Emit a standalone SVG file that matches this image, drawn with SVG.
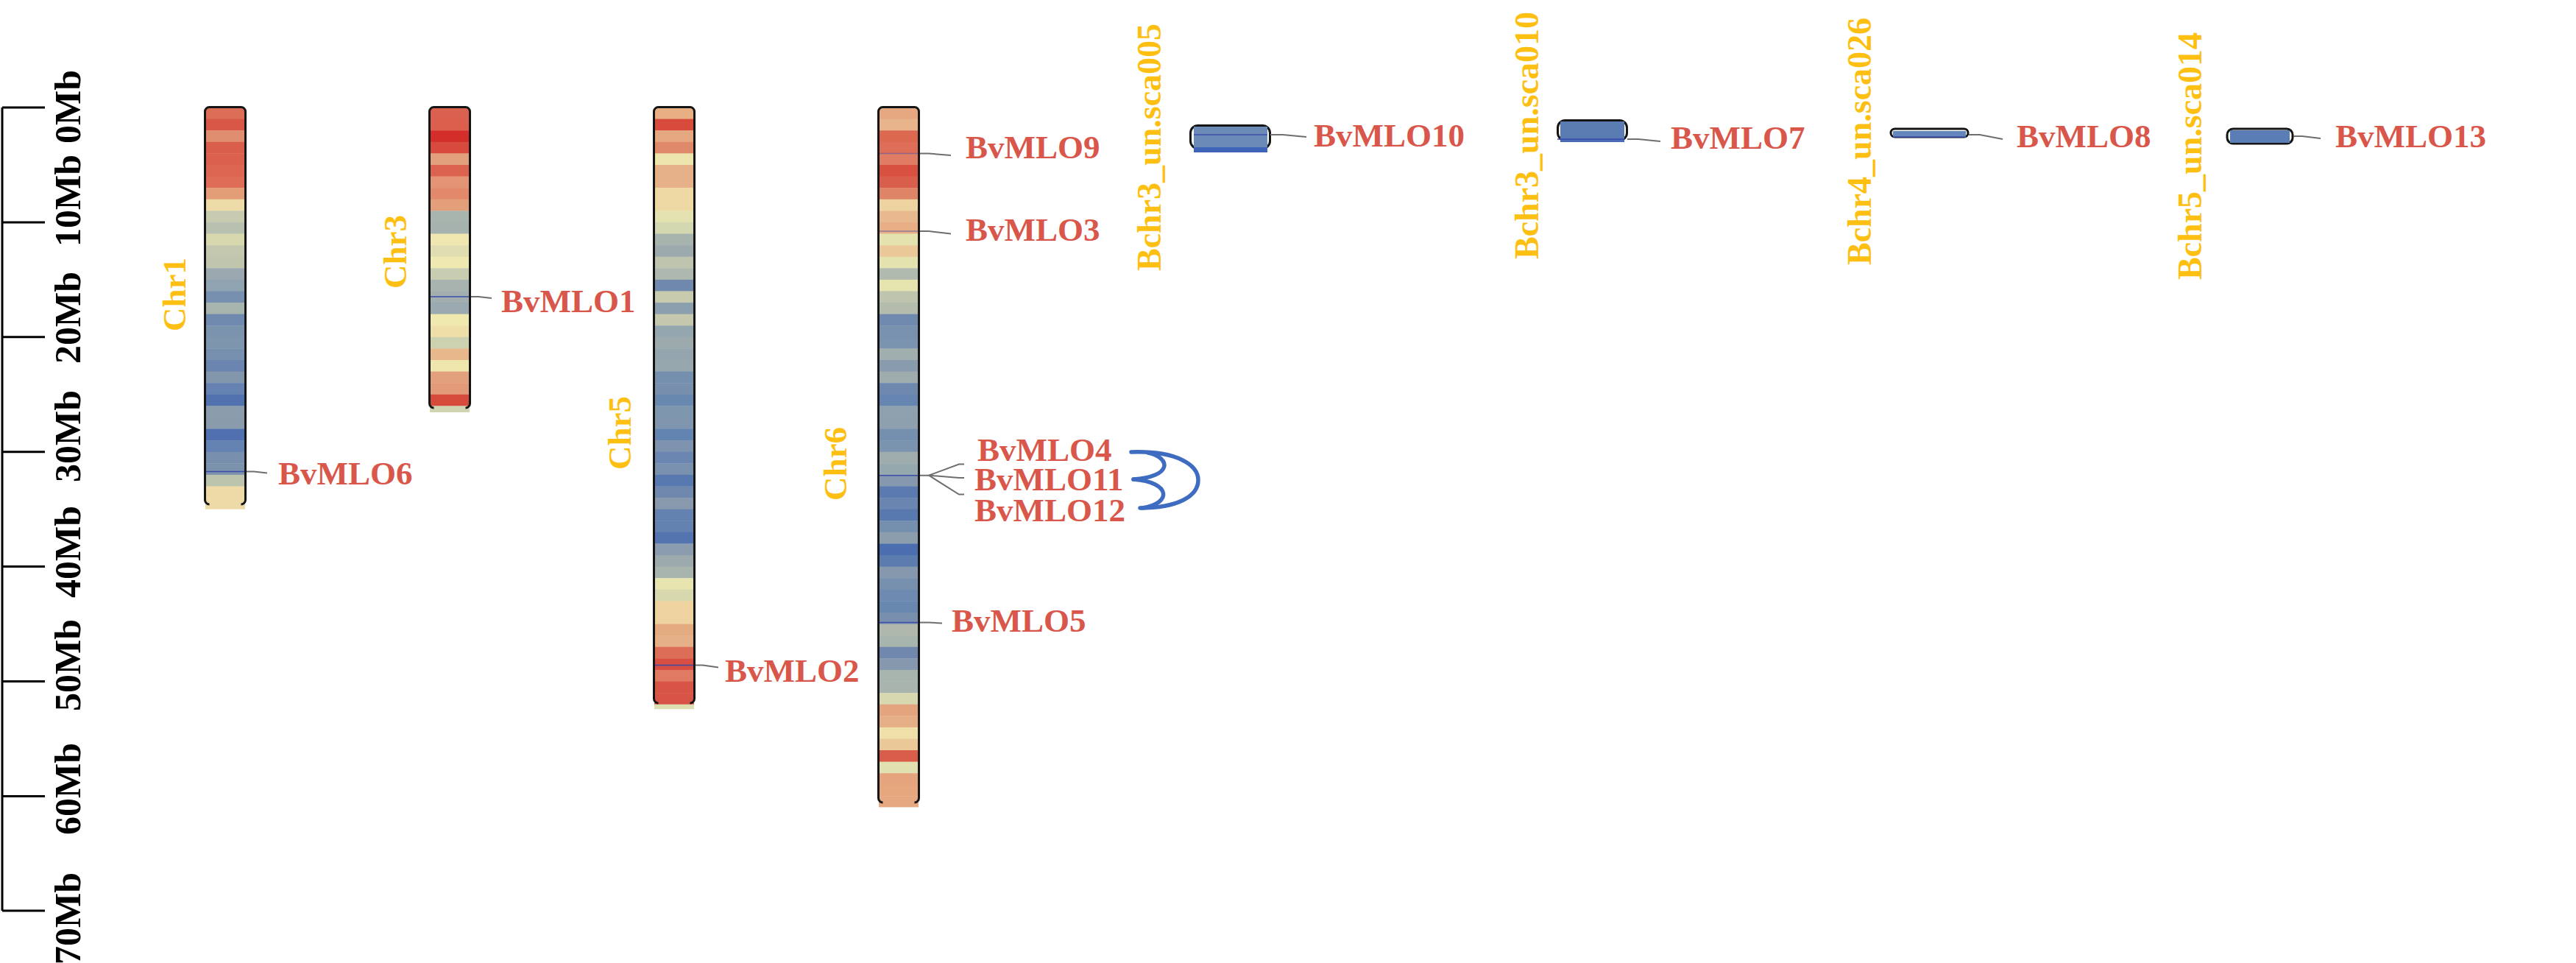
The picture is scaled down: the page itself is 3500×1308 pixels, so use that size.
<svg xmlns="http://www.w3.org/2000/svg" width="3500" height="1308" viewBox="0 0 3500 1308">
<style>
text{font-family:"Liberation Serif","Times New Roman",serif;font-weight:bold}
.ax{font-size:50px;fill:#000}
.chr{font-size:45px;fill:#FDBF12}
.sca{font-size:46px;fill:#FDBF12}
.gene{font-size:45px;fill:#D9574A}
.tick{stroke:#000;stroke-width:3;fill:none}
.outl{stroke:#151515;stroke-width:3;fill:none}
.con{stroke:#6E6E6E;stroke-width:2;fill:none}
.mark{stroke:#3B4DA8;stroke-width:1.5}
.bracket{stroke:#3E6CC0;stroke-width:5.5;fill:none;stroke-linecap:round}
.b rect{width:54px;height:16px}
</style>
<defs>
<clipPath id="c1"><rect x="2" y="146" width="54" height="570" rx="5"/></clipPath>
<clipPath id="c3"><rect x="2" y="146" width="54" height="430" rx="5"/></clipPath>
<clipPath id="c5"><rect x="2" y="146" width="54" height="830" rx="5"/></clipPath>
<clipPath id="c6"><rect x="2" y="146" width="54" height="960" rx="5"/></clipPath>
</defs>
<rect width="3500" height="1308" fill="#fff"/>

<g id="axis">
<path class="tick" d="M3,146V1237M3,146H61M3,301.9H61M3,457.8H61M3,613.7H61M3,769.6H61M3,925.5H61M3,1081.4H61M3,1237H61"/>
<text class="ax" transform="translate(109,195) rotate(-90)">0Mb</text>
<text class="ax" transform="translate(109,335) rotate(-90)">10Mb</text>
<text class="ax" transform="translate(109,494) rotate(-90)">20Mb</text>
<text class="ax" transform="translate(109,655) rotate(-90)">30Mb</text>
<text class="ax" transform="translate(109,812) rotate(-90)">40Mb</text>
<text class="ax" transform="translate(109,966) rotate(-90)">50Mb</text>
<text class="ax" transform="translate(109,1134) rotate(-90)">60Mb</text>
<text class="ax" transform="translate(109,1310) rotate(-90)">70Mb</text>
</g>

<g id="Chr1" transform="translate(277,0)">
<g class="b" clip-path="url(#c1)">
<rect x="2" y="146" fill="#DC6E58"/><rect x="2" y="161.6" fill="#D85646"/><rect x="2" y="177.2" fill="#E08E70"/><rect x="2" y="192.8" fill="#DA5E4C"/><rect x="2" y="208.4" fill="#DC604E"/><rect x="2" y="224" fill="#DC6652"/><rect x="2" y="239.5" fill="#DE6C56"/><rect x="2" y="255.1" fill="#E39E78"/><rect x="2" y="270.7" fill="#EEDCA8"/><rect x="2" y="286.3" fill="#C8CBB0"/><rect x="2" y="301.9" fill="#B8C0B0"/><rect x="2" y="317.5" fill="#D8D8AE"/><rect x="2" y="333.1" fill="#C4C8AE"/><rect x="2" y="348.7" fill="#C0C5AE"/><rect x="2" y="364.3" fill="#9CA8B0"/><rect x="2" y="379.9" fill="#90A3B0"/><rect x="2" y="395.4" fill="#7890B0"/><rect x="2" y="411" fill="#A8B4AE"/><rect x="2" y="426.6" fill="#7089AE"/><rect x="2" y="442.2" fill="#7C93AE"/><rect x="2" y="457.8" fill="#7E95AE"/><rect x="2" y="473.4" fill="#7890B0"/><rect x="2" y="489" fill="#6A85B0"/><rect x="2" y="504.6" fill="#8297AC"/><rect x="2" y="520.2" fill="#6682B2"/><rect x="2" y="535.8" fill="#5272AF"/><rect x="2" y="551.3" fill="#8B9DAC"/><rect x="2" y="566.9" fill="#8A9CAB"/><rect x="2" y="582.5" fill="#5070B0"/><rect x="2" y="598.1" fill="#6482B2"/><rect x="2" y="613.7" fill="#7890AE"/><rect x="2" y="629.3" fill="#7C92AC"/><rect x="2" y="644.9" fill="#BCC4AE"/><rect x="2" y="660.5" fill="#EEDAA6"/><rect x="2" y="676.1" fill="#EEDAA6" style="height:15.6px"/>
</g>
<line class="mark" x1="2" y1="640.5" x2="56" y2="640.5"/>
<path class="outl" d="M7.5,685A6,6 0 0 1 1.5,679V151.5A6,6 0 0 1 7.5,145.5H50.5A6,6 0 0 1 56.5,151.5V679A6,6 0 0 1 50.5,685"/>
<text class="chr" transform="translate(-25,400) rotate(-90)" text-anchor="middle">Chr1</text>
</g>

<g id="Chr3" transform="translate(582,0)">
<g class="b" clip-path="url(#c3)">
<rect x="2" y="146" fill="#DA6050"/><rect x="2" y="161.6" fill="#DC5F4E"/><rect x="2" y="177.2" fill="#D32E2A"/><rect x="2" y="192.8" fill="#D84A3E"/><rect x="2" y="208.4" fill="#E3A07C"/><rect x="2" y="224" fill="#DC6250"/><rect x="2" y="239.5" fill="#E39474"/><rect x="2" y="255.1" fill="#E2896C"/><rect x="2" y="270.7" fill="#E39E7A"/><rect x="2" y="286.3" fill="#A8B4AE"/><rect x="2" y="301.9" fill="#A6B2AE"/><rect x="2" y="317.5" fill="#EFE6B0"/><rect x="2" y="333.1" fill="#E0DEB0"/><rect x="2" y="348.7" fill="#EFE8B0"/><rect x="2" y="364.3" fill="#C8CCB0"/><rect x="2" y="379.9" fill="#A8B2AE"/><rect x="2" y="395.4" fill="#A3AFAE"/><rect x="2" y="411" fill="#9AAAB0"/><rect x="2" y="426.6" fill="#EFE9B0"/><rect x="2" y="442.2" fill="#EEDEA8"/><rect x="2" y="457.8" fill="#CCD1B0"/><rect x="2" y="473.4" fill="#E6B88C"/><rect x="2" y="489" fill="#EFE6AE"/><rect x="2" y="504.6" fill="#E2A07C"/><rect x="2" y="520.2" fill="#E29A78"/><rect x="2" y="535.8" fill="#D64A3C"/><rect x="2" y="551.3" fill="#D0D4B0" style="height:8.7px"/>
</g>
<line class="mark" x1="2" y1="403" x2="56" y2="403"/>
<path class="outl" d="M7.5,554A6,6 0 0 1 1.5,548V151.5A6,6 0 0 1 7.5,145.5H50.5A6,6 0 0 1 56.5,151.5V548A6,6 0 0 1 50.5,554"/>
<text class="chr" transform="translate(-30,342) rotate(-90)" text-anchor="middle">Chr3</text>
</g>

<g id="Chr5" transform="translate(887,0)">
<g class="b" clip-path="url(#c5)">
<rect x="2" y="146" fill="#E8AE84"/><rect x="2" y="161.6" fill="#D84A3C"/><rect x="2" y="177.2" fill="#E5A880"/><rect x="2" y="192.8" fill="#E0896A"/><rect x="2" y="208.4" fill="#EEE4AE"/><rect x="2" y="224" fill="#E6B088"/><rect x="2" y="239.5" fill="#E6B088"/><rect x="2" y="255.1" fill="#EED9A4"/><rect x="2" y="270.7" fill="#EED8A4"/><rect x="2" y="286.3" fill="#E4E2B0"/><rect x="2" y="301.9" fill="#D4D8B0"/><rect x="2" y="317.5" fill="#A7B4AE"/><rect x="2" y="333.1" fill="#9CAAAE"/><rect x="2" y="348.7" fill="#BEC4AE"/><rect x="2" y="364.3" fill="#AEB8AE"/><rect x="2" y="379.9" fill="#7088AE"/><rect x="2" y="395.4" fill="#C8CBAE"/><rect x="2" y="411" fill="#8C9FAE"/><rect x="2" y="426.6" fill="#C6C8AE"/><rect x="2" y="442.2" fill="#94A6AE"/><rect x="2" y="457.8" fill="#9CAAAE"/><rect x="2" y="473.4" fill="#94A5AE"/><rect x="2" y="489" fill="#96A8AE"/><rect x="2" y="504.6" fill="#7590AE"/><rect x="2" y="520.2" fill="#7890AE"/><rect x="2" y="535.8" fill="#6888B0"/><rect x="2" y="551.3" fill="#7F97AE"/><rect x="2" y="566.9" fill="#7F96AE"/><rect x="2" y="582.5" fill="#6383B0"/><rect x="2" y="598.1" fill="#7D93AE"/><rect x="2" y="613.7" fill="#6B86B0"/><rect x="2" y="629.3" fill="#7990AE"/><rect x="2" y="644.9" fill="#5878B0"/><rect x="2" y="660.5" fill="#7088AE"/><rect x="2" y="676.1" fill="#8899AE"/><rect x="2" y="691.7" fill="#6482B0"/><rect x="2" y="707.2" fill="#6482B0"/><rect x="2" y="722.8" fill="#5474B0"/><rect x="2" y="738.4" fill="#8A9CAE"/><rect x="2" y="754" fill="#9CAAAE"/><rect x="2" y="769.6" fill="#A8B4AE"/><rect x="2" y="785.2" fill="#E8E4B0"/><rect x="2" y="800.8" fill="#D8D8AE"/><rect x="2" y="816.4" fill="#EED3A0"/><rect x="2" y="832" fill="#EED3A0"/><rect x="2" y="847.6" fill="#E4AA80"/><rect x="2" y="863.1" fill="#E5B088"/><rect x="2" y="878.7" fill="#DC6E58"/><rect x="2" y="894.3" fill="#D84E42"/><rect x="2" y="909.9" fill="#E07A62"/><rect x="2" y="925.5" fill="#D85446"/><rect x="2" y="941.1" fill="#D85446"/><rect x="2" y="956.7" fill="#DEDFB0" style="height:6.5px"/>
</g>
<line class="mark" x1="2" y1="903.5" x2="56" y2="903.5"/>
<path class="outl" d="M7.5,955A6,6 0 0 1 1.5,949V151.5A6,6 0 0 1 7.5,145.5H50.5A6,6 0 0 1 56.5,151.5V949A6,6 0 0 1 50.5,955"/>
<text class="chr" transform="translate(-30,588) rotate(-90)" text-anchor="middle">Chr5</text>
</g>

<g id="Chr6" transform="translate(1192,0)">
<g class="b" clip-path="url(#c6)">
<rect x="2" y="146" fill="#E6A880"/><rect x="2" y="161.6" fill="#E8B48C"/><rect x="2" y="177.2" fill="#DC6850"/><rect x="2" y="192.8" fill="#DE6E58"/><rect x="2" y="208.4" fill="#E07C64"/><rect x="2" y="224" fill="#D8503F"/><rect x="2" y="239.5" fill="#DA5E4C"/><rect x="2" y="255.1" fill="#E08468"/><rect x="2" y="270.7" fill="#EDD3A0"/><rect x="2" y="286.3" fill="#E8B88E"/><rect x="2" y="301.9" fill="#E8AE86"/><rect x="2" y="317.5" fill="#E4E2AE"/><rect x="2" y="333.1" fill="#EAC898"/><rect x="2" y="348.7" fill="#E4E2AE"/><rect x="2" y="364.3" fill="#B0BAAE"/><rect x="2" y="379.9" fill="#E6E4AE"/><rect x="2" y="395.4" fill="#BEC4AE"/><rect x="2" y="411" fill="#B4BCAE"/><rect x="2" y="426.6" fill="#7089AE"/><rect x="2" y="442.2" fill="#7891AE"/><rect x="2" y="457.8" fill="#7A93AE"/><rect x="2" y="473.4" fill="#A0AEAE"/><rect x="2" y="489" fill="#889CAE"/><rect x="2" y="504.6" fill="#9EACAE"/><rect x="2" y="520.2" fill="#6E88AE"/><rect x="2" y="535.8" fill="#6685B0"/><rect x="2" y="551.3" fill="#8FA0AE"/><rect x="2" y="566.9" fill="#8EA0AE"/><rect x="2" y="582.5" fill="#7590AE"/><rect x="2" y="598.1" fill="#7A93AE"/><rect x="2" y="613.7" fill="#9EACAE"/><rect x="2" y="629.3" fill="#95A8AE"/><rect x="2" y="644.9" fill="#8698AE"/><rect x="2" y="660.5" fill="#5A7AB0"/><rect x="2" y="676.1" fill="#6A86B0"/><rect x="2" y="691.7" fill="#5879B0"/><rect x="2" y="707.2" fill="#7490AE"/><rect x="2" y="722.8" fill="#8C9EAE"/><rect x="2" y="738.4" fill="#4A6EB0"/><rect x="2" y="754" fill="#5C7CB0"/><rect x="2" y="769.6" fill="#8698AE"/><rect x="2" y="785.2" fill="#7690AE"/><rect x="2" y="800.8" fill="#6E8AB0"/><rect x="2" y="816.4" fill="#6888B0"/><rect x="2" y="832" fill="#7890AE"/><rect x="2" y="847.6" fill="#B0B8AE"/><rect x="2" y="863.1" fill="#A8B4AE"/><rect x="2" y="878.7" fill="#7088AE"/><rect x="2" y="894.3" fill="#8598AE"/><rect x="2" y="909.9" fill="#A8B4AE"/><rect x="2" y="925.5" fill="#AAB4AE"/><rect x="2" y="941.1" fill="#D8D8B0"/><rect x="2" y="956.7" fill="#E4A47E"/><rect x="2" y="972.3" fill="#E6AE86"/><rect x="2" y="987.9" fill="#EEE0A8"/><rect x="2" y="1003.5" fill="#EAC898"/><rect x="2" y="1019" fill="#DA5C4A"/><rect x="2" y="1034.6" fill="#E0E0B0"/><rect x="2" y="1050.2" fill="#E6A47E"/><rect x="2" y="1065.8" fill="#E6A67E"/><rect x="2" y="1081.4" fill="#E6A880" style="height:15px"/>
</g>
<line class="mark" x1="2" y1="208.5" x2="56" y2="208.5" opacity="0.5"/>
<line class="mark" x1="2" y1="314" x2="56" y2="314" opacity="0.5"/>
<line class="mark" x1="2" y1="645.7" x2="56" y2="645.7"/>
<line class="mark" x1="2" y1="845.6" x2="56" y2="845.6"/>
<path class="outl" d="M7.5,1090A6,6 0 0 1 1.5,1084V151.5A6,6 0 0 1 7.5,145.5H50.5A6,6 0 0 1 56.5,151.5V1084A6,6 0 0 1 50.5,1090"/>
<text class="chr" transform="translate(-42,630) rotate(-90)" text-anchor="middle">Chr6</text>
</g>

<g id="sca005">
<rect class="outl" x="1617.5" y="170.5" width="108" height="31" rx="10"/>
<rect x="1622" y="172" width="100" height="28" fill="#6C8AB6"/>
<rect x="1622" y="200" width="100" height="7" fill="#3D64B6"/>
<line class="mark" x1="1622" y1="183" x2="1722" y2="183"/>
<text class="sca" transform="translate(1577,368) rotate(-90)">Bchr3_un.sca005</text>
</g>

<g id="sca010">
<rect class="outl" x="2116.5" y="163.5" width="94" height="27" rx="10"/>
<rect x="2120" y="165" width="87" height="23" fill="#5A7CB2"/>
<rect x="2120" y="188" width="87" height="5" fill="#4A6BB6"/>
<line class="mark" x1="2116" y1="189" x2="2207" y2="189"/>
<text class="sca" transform="translate(2090,352) rotate(-90)">Bchr3_un.sca010</text>
</g>

<g id="sca026">
<rect class="outl" x="2569" y="175" width="105" height="11" rx="5.5"/>
<rect x="2572" y="178" width="99" height="8" fill="#6586BC"/>
<line class="mark" x1="2572" y1="186" x2="2671" y2="186" stroke-width="1"/>
<text class="sca" transform="translate(2542,360) rotate(-90)">Bchr4_un.sca026</text>
</g>

<g id="sca014">
<rect class="outl" x="3026" y="175" width="89" height="20" rx="8"/>
<rect x="3030" y="177" width="81" height="17" fill="#5A7DB6"/>
<text class="sca" transform="translate(2991,380) rotate(-90)">Bchr5_un.sca014</text>
</g>

<g id="connectors">
<polyline class="con" points="335,640.5 345,640.5 363,642.5"/>
<polyline class="con" points="640,403 650,403 668,405"/>
<polyline class="con" points="945,903.5 955,903.5 976,906.5"/>
<polyline class="con" points="1250,208.5 1262,208.5 1292,211"/>
<polyline class="con" points="1250,314 1262,314 1292,317.5"/>
<polyline class="con" points="1250,845.6 1262,845.6 1280,846.5"/>
<polyline class="con" points="1250,645.7 1262,645.7 1303,630.5 1310,630.5"/>
<polyline class="con" points="1262,645.7 1303,649 1310,649"/>
<polyline class="con" points="1262,645.7 1303,671.5 1310,671.5"/>
<polyline class="con" points="1726,183 1743,183 1775,186"/>
<polyline class="con" points="2211,189 2226,189 2256,192"/>
<polyline class="con" points="2675,183 2690,183 2721,189"/>
<polyline class="con" points="3116,185 3128,185 3153,188"/>
<path class="bracket" d="M1537,614C1600,612 1628,632 1628,652C1628,674 1600,690 1549,690"/>
<path class="bracket" d="M1560,615C1592,622 1592,648 1540,651"/>
<path class="bracket" d="M1540,651C1592,655 1592,684 1552,690"/>
</g>

<g id="labels">
<text class="gene" x="378" y="658">BvMLO6</text>
<text class="gene" x="681" y="424">BvMLO1</text>
<text class="gene" x="985" y="926">BvMLO2</text>
<text class="gene" x="1312" y="215">BvMLO9</text>
<text class="gene" x="1312" y="327">BvMLO3</text>
<text class="gene" x="1328" y="626">BvMLO4</text>
<text class="gene" x="1324" y="666">BvMLO11</text>
<text class="gene" x="1324" y="708">BvMLO12</text>
<text class="gene" x="1293" y="858">BvMLO5</text>
<text class="gene" x="1785" y="199">BvMLO10</text>
<text class="gene" x="2270" y="202">BvMLO7</text>
<text class="gene" x="2740" y="200">BvMLO8</text>
<text class="gene" x="3173" y="200">BvMLO13</text>
</g>
</svg>
